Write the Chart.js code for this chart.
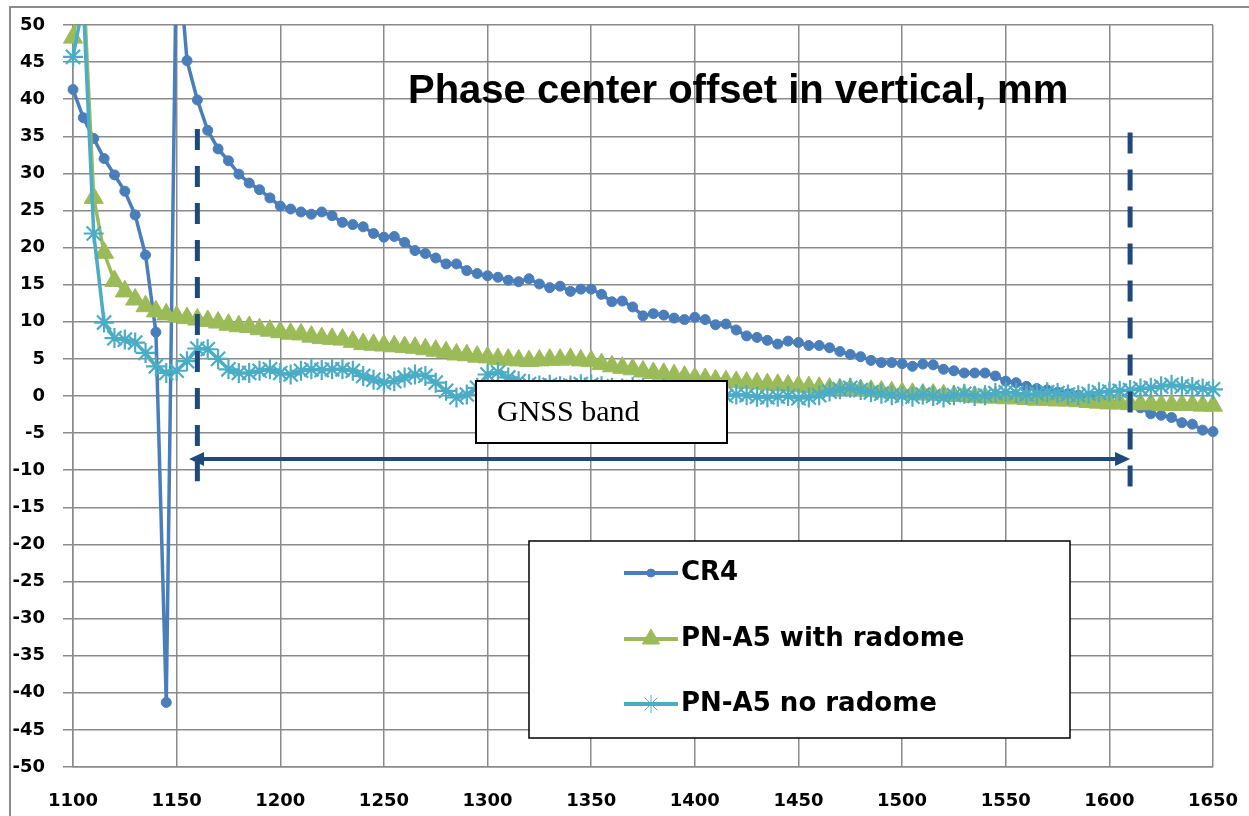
<!DOCTYPE html>
<html>
<head>
<meta charset="utf-8">
<script src="https://cdn.jsdelivr.net/npm/chart.js@4.4.1/dist/chart.umd.min.js"></script>
<style>
html,body{margin:0;padding:0;background:#fff;}
#wrap{position:relative;width:1249px;height:816px;}
canvas{display:block;}
</style>
</head>
<body>
<div id="wrap"><canvas id="c" width="1249" height="816"></canvas></div>
<script>
// ---------- data ----------
const freqMHz = [
 1100,1105,1110,1115,1120,1125,1130,1135,1140,1145,
 1150,1155,1160,1165,1170,1175,1180,1185,1190,1195,
 1200,1205,1210,1215,1220,1225,1230,1235,1240,1245,
 1250,1255,1260,1265,1270,1275,1280,1285,1290,1295,
 1300,1305,1310,1315,1320,1325,1330,1335,1340,1345,
 1350,1355,1360,1365,1370,1375,1380,1385,1390,1395,
 1400,1405,1410,1415,1420,1425,1430,1435,1440,1445,
 1450,1455,1460,1465,1470,1475,1480,1485,1490,1495,
 1500,1505,1510,1515,1520,1525,1530,1535,1540,1545,
 1550,1555,1560,1565,1570,1575,1580,1585,1590,1595,
 1600,1605,1610,1615,1620,1625,1630,1635,1640,1645,
 1650
];
const cr4 = [
 41.3,37.5,34.7,32.0,29.8,27.6,24.4,19.0,8.6,-41.3,
 62,45.2,39.9,35.8,33.3,31.7,29.9,28.7,27.8,26.7,
 25.6,25.2,24.8,24.5,24.8,24.3,23.4,23.1,22.8,21.9,
 21.4,21.5,20.7,19.6,19.2,18.6,17.8,17.8,16.9,16.5,
 16.2,16.0,15.6,15.4,15.8,15.1,14.6,14.8,14.1,14.4,
 14.4,13.7,12.7,12.8,12.0,10.8,11.1,10.9,10.5,10.3,
 10.6,10.3,9.6,9.7,8.9,8.1,7.9,7.5,7.0,7.4,
 7.2,6.8,6.8,6.5,6.0,5.6,5.3,4.8,4.5,4.5,
 4.35,4.0,4.3,4.2,3.6,3.4,3.1,3.1,3.1,2.7,
 2.0,1.8,1.3,1.0,0.8,0.5,0.3,0.1,-0.1,-0.4,
 -0.7,-1.0,-1.3,-1.6,-2.4,-2.6,-2.9,-3.6,-3.8,-4.6,
 -4.8
];
const pnA5WithRadome = [
 48.3,56,26.7,19.3,15.5,14.1,13.0,12.1,11.4,11.0,
 10.7,10.5,10.3,10.1,9.9,9.6,9.4,9.3,9.0,8.8,
 8.6,8.4,8.3,8.0,7.8,7.7,7.6,7.3,7.0,6.9,
 6.8,6.7,6.6,6.5,6.3,6.1,5.9,5.6,5.5,5.3,
 5.2,5.0,4.9,4.8,4.7,4.8,4.9,4.9,5.0,4.8,
 4.7,4.3,4.0,3.8,3.6,3.3,3.1,3.0,2.8,2.6,
 2.4,2.3,2.1,2.0,1.9,1.8,1.7,1.6,1.5,1.4,
 1.3,1.2,1.1,1.0,0.9,0.9,0.8,0.7,0.6,0.5,
 0.4,0.3,0.2,0.2,0.1,0.0,0.0,-0.1,-0.2,-0.2,
 -0.3,-0.3,-0.4,-0.5,-0.5,-0.6,-0.6,-0.7,-0.8,-0.9,
 -1.0,-1.0,-1.1,-1.1,-1.1,-1.2,-1.2,-1.2,-1.2,-1.3,
 -1.3
];
const pnA5NoRadome = [
 45.7,53,21.9,9.9,7.8,7.6,7.2,5.8,4.0,3.1,
 3.4,4.7,6.4,6.3,5.0,3.6,3.1,3.1,3.4,3.6,
 3.1,2.9,3.4,3.6,3.5,3.6,3.6,3.4,2.7,2.2,
 1.8,2.0,2.5,2.9,2.7,1.8,0.7,-0.2,0.2,1.1,
 2.9,3.2,2.5,2.0,1.6,1.4,1.5,1.3,1.4,1.6,
 1.5,1.3,1.1,1.0,1.2,1.1,0.9,1.0,0.8,0.6,
 0.4,0.3,0.1,0.0,0.2,0.1,-0.1,-0.2,-0.1,0.0,
 -0.3,-0.2,0.1,0.6,0.9,1.1,0.8,0.5,0.3,0.1,
 0.0,-0.1,0.2,0.0,-0.2,0.1,0.3,0.0,0.1,0.4,
 0.5,0.4,0.2,0.3,0.5,0.4,0.2,0.1,0.3,0.5,
 0.6,0.7,0.8,1.0,1.1,1.3,1.5,1.3,1.2,1.0,
 0.9
];
const seriesNames = ['CR4', 'PN-A5 with radome', 'PN-A5 no radome'];
const xTickValues = [1100,1150,1200,1250,1300,1350,1400,1450,1500,1550,1600,1650];
const yTickValues = [-50,-45,-40,-35,-30,-25,-20,-15,-10,-5,0,5,10,15,20,25,30,35,40,45,50];
const titleText = 'Phase center offset in vertical, mm';
const bandLabel = 'GNSS band';
const bandEdgesMHz = [1160, 1610];
const bandEdgeTop = [36, 35.5];
const bandEdgeBottom = [-11.5, -12.5];
const arrowFromMHz = [1156];
const arrowToMHz = [1610];
const arrowLevel = [-8.5];

// ---------- styles ----------
const C_BLUE = '#4A7EBB', C_GREEN = '#9BBB59', C_CYAN = '#4BACC6', C_NAVY = '#1F497D';
const GRID = '#8a8a8a';

function pts(vals){ return freqMHz.map((f,i)=>({x:f, y:vals[i]})); }

function drawMarker(ctx, style, x, y, r, color, bw){
  ctx.save();
  ctx.fillStyle = color; ctx.strokeStyle = color; ctx.lineWidth = bw;
  if (Chart.helpers && Chart.helpers.drawPoint) {
    Chart.helpers.drawPoint(ctx, {pointStyle: style, radius: r, borderWidth: bw, rotation: 0}, x, y);
  }
  ctx.restore();
}

const overlay = {
  id: 'overlay',
  beforeDraw(chart){
    const ctx = chart.ctx;
    ctx.save();
    ctx.fillStyle = '#fff';
    ctx.fillRect(0,0,chart.width,chart.height);
    ctx.strokeStyle = '#8c8c8c'; ctx.lineWidth = 2;
    ctx.strokeRect(10, 7, chart.width + 40, chart.height + 40);
    ctx.restore();
  },
  afterDatasetsDraw(chart){
    const ctx = chart.ctx, xs = chart.scales.x, ys = chart.scales.y;
    ctx.save();
    // title
    ctx.font = 'bold 40px "Liberation Sans", Arial, sans-serif';
    ctx.fillStyle = '#000'; ctx.textAlign = 'left'; ctx.textBaseline = 'alphabetic';
    ctx.fillText(titleText, 408, 103);

    // dashed band edges
    ctx.strokeStyle = C_NAVY; ctx.lineWidth = 5; ctx.setLineDash([21,16]); ctx.lineCap = 'butt';
    bandEdgesMHz.forEach((f,i)=>{
      const px = xs.getPixelForValue(f);
      ctx.beginPath();
      ctx.moveTo(px, ys.getPixelForValue(bandEdgeTop[i]));
      ctx.lineTo(px, ys.getPixelForValue(bandEdgeBottom[i]));
      ctx.stroke();
    });
    ctx.setLineDash([]);

    // double arrow
    const ay = ys.getPixelForValue(arrowLevel[0]);
    const a1 = xs.getPixelForValue(arrowFromMHz[0]), a2 = xs.getPixelForValue(arrowToMHz[0]);
    const hl = 15, hw = 7;
    ctx.lineWidth = 4;
    ctx.beginPath(); ctx.moveTo(a1 + hl - 2, ay); ctx.lineTo(a2 - hl + 2, ay); ctx.stroke();
    ctx.fillStyle = C_NAVY;
    ctx.beginPath(); ctx.moveTo(a2, ay); ctx.lineTo(a2 - hl, ay - hw); ctx.lineTo(a2 - hl, ay + hw); ctx.closePath(); ctx.fill();
    ctx.beginPath(); ctx.moveTo(a1, ay); ctx.lineTo(a1 + hl, ay - hw); ctx.lineTo(a1 + hl, ay + hw); ctx.closePath(); ctx.fill();

    // GNSS band box
    ctx.fillStyle = '#fff'; ctx.fillRect(476, 381, 251, 62);
    ctx.strokeStyle = '#000'; ctx.lineWidth = 2; ctx.strokeRect(476, 381, 251, 62);
    ctx.fillStyle = '#000';
    ctx.font = '30px "Liberation Serif", "Times New Roman", serif';
    ctx.textAlign = 'left'; ctx.textBaseline = 'alphabetic';
    ctx.fillText(bandLabel, 497, 421);

    // legend
    ctx.fillStyle = '#fff'; ctx.fillRect(529, 541, 541, 197);
    ctx.strokeStyle = '#000'; ctx.lineWidth = 1.5; ctx.strokeRect(529, 541, 541, 197);
    const rows = [573, 639, 704];
    const cols = [C_BLUE, C_GREEN, C_CYAN];
    const styles = [['circle',4,1],['triangle',10,1],['star',9,1]];
    rows.forEach((ry,i)=>{
      ctx.strokeStyle = cols[i]; ctx.lineWidth = 4; ctx.lineCap = 'butt';
      ctx.beginPath(); ctx.moveTo(624, ry); ctx.lineTo(678, ry); ctx.stroke();
      drawMarker(ctx, styles[i][0], 651, ry, styles[i][1], cols[i], styles[i][2]);
      ctx.fillStyle = '#000';
      ctx.font = 'bold 26px "DejaVu Sans", sans-serif';
      ctx.textAlign = 'left'; ctx.textBaseline = 'middle';
      ctx.fillText(seriesNames[i], 681, ry);
    });
    ctx.restore();
  }
};

const tickFont = {family: '"DejaVu Sans", sans-serif', size: 18, weight: 'bold'};
const clipBox = {left: 12, top: 0, right: 12, bottom: 12};

new Chart(document.getElementById('c'), {
  type: 'line',
  data: {
    datasets: [
      {label: seriesNames[0], data: pts(cr4), order: 2,
       borderColor: C_BLUE, backgroundColor: C_BLUE, borderWidth: 3.5,
       pointStyle: 'circle', pointRadius: 5, pointBorderWidth: 1,
       pointBackgroundColor: C_BLUE, pointBorderColor: C_BLUE, tension: 0, clip: clipBox},
      {label: seriesNames[1], data: pts(pnA5WithRadome), order: 1,
       borderColor: C_GREEN, backgroundColor: C_GREEN, borderWidth: 3.5,
       pointStyle: 'triangle', pointRadius: 11, pointBorderWidth: 1,
       pointBackgroundColor: C_GREEN, pointBorderColor: C_GREEN, tension: 0, clip: clipBox},
      {label: seriesNames[2], data: pts(pnA5NoRadome), order: 0,
       borderColor: C_CYAN, backgroundColor: C_CYAN, borderWidth: 3.5,
       pointStyle: 'star', pointRadius: 10, pointBorderWidth: 2.2,
       pointBackgroundColor: C_CYAN, pointBorderColor: C_CYAN, tension: 0, clip: clipBox}
    ]
  },
  options: {
    responsive: false,
    devicePixelRatio: 1,
    animation: false,
    events: [],
    layout: {padding: {left: 10, top: 25, right: 36, bottom: 0}},
    plugins: {legend: {display: false}, title: {display: false}, tooltip: {enabled: false}},
    scales: {
      x: {
        type: 'linear', min: 1100, max: 1650,
        afterBuildTicks: s => { s.ticks = xTickValues.map(v => ({value: v})); },
        afterFit: s => { s.height = 49; s.paddingLeft = 0; s.paddingRight = 0; },
        grid: {color: GRID, lineWidth: 1.5, drawTicks: false},
        border: {display: true, color: GRID, width: 1.5},
        ticks: {font: tickFont, color: '#000', padding: 24, maxRotation: 0, autoSkip: false,
                callback: v => String(v)}
      },
      y: {
        type: 'linear', min: -50, max: 50,
        afterBuildTicks: s => { s.ticks = yTickValues.map(v => ({value: v})); },
        afterFit: s => { s.width = 63; s.paddingTop = 0; s.paddingBottom = 0; },
        grid: {color: GRID, lineWidth: 1.5, drawTicks: true, tickLength: 10},
        border: {display: true, color: GRID, width: 1.5},
        ticks: {font: tickFont, color: '#000', padding: 18, autoSkip: false,
                callback: v => String(v)}
      }
    }
  },
  plugins: [overlay]
});
</script>
</body>
</html>
